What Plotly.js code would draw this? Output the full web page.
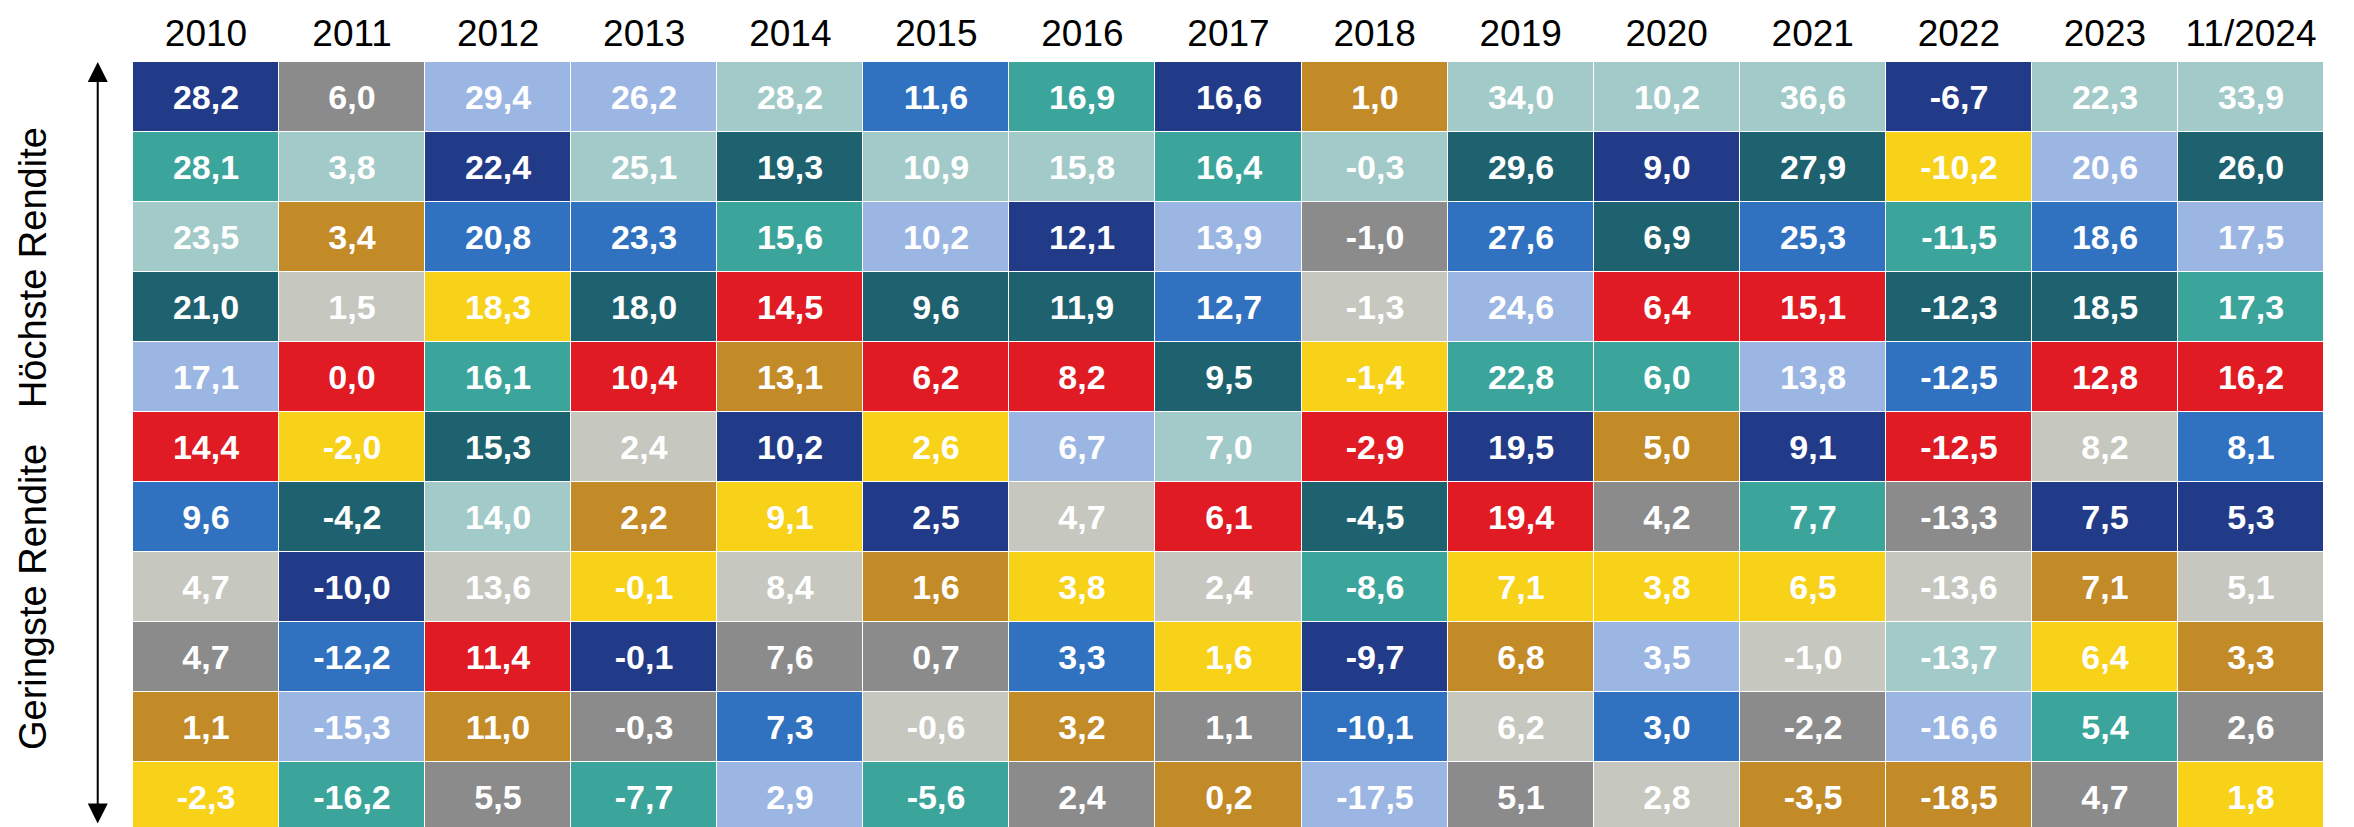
<!DOCTYPE html>
<html><head><meta charset="utf-8">
<script src="https://cdn.plot.ly/plotly-3.0.1.min.js"></script>
<style>html,body{margin:0;padding:0;background:#fff;}#chart{width:2354px;height:827px;}</style>
</head><body><div id="chart"></div>
<script>
// Column headers
const years = ['2010','2011','2012','2013','2014','2015','2016','2017','2018','2019','2020','2021','2022','2023','11/2024'];

// Colour keys of the asset classes (no legend in the source)
const classKeys   = ['N','G','P','L','T','D','B','O','S','Y','R'];
const classColors = ['#223B89','#8B8B8B','#9CB6E4','#A2CAC8','#3BA59C','#1E6270','#3072C0','#C38A28','#C6C7BF','#F8D119','#E01B24'];

// Returns per year, highest to lowest, and the class of each cell
const r2010 = [28.2, 28.1, 23.5, 21.0, 17.1, 14.4, 9.6, 4.7, 4.7, 1.1, -2.3];
const k2010 = ['N','T','L','D','P','R','B','S','G','O','Y'];
const r2011 = [6.0, 3.8, 3.4, 1.5, 0.0, -2.0, -4.2, -10.0, -12.2, -15.3, -16.2];
const k2011 = ['G','L','O','S','R','Y','D','N','B','P','T'];
const r2012 = [29.4, 22.4, 20.8, 18.3, 16.1, 15.3, 14.0, 13.6, 11.4, 11.0, 5.5];
const k2012 = ['P','N','B','Y','T','D','L','S','R','O','G'];
const r2013 = [26.2, 25.1, 23.3, 18.0, 10.4, 2.4, 2.2, -0.1, -0.1, -0.3, -7.7];
const k2013 = ['P','L','B','D','R','S','O','Y','N','G','T'];
const r2014 = [28.2, 19.3, 15.6, 14.5, 13.1, 10.2, 9.1, 8.4, 7.6, 7.3, 2.9];
const k2014 = ['L','D','T','R','O','N','Y','S','G','B','P'];
const r2015 = [11.6, 10.9, 10.2, 9.6, 6.2, 2.6, 2.5, 1.6, 0.7, -0.6, -5.6];
const k2015 = ['B','L','P','D','R','Y','N','O','G','S','T'];
const r2016 = [16.9, 15.8, 12.1, 11.9, 8.2, 6.7, 4.7, 3.8, 3.3, 3.2, 2.4];
const k2016 = ['T','L','N','D','R','P','S','Y','B','O','G'];
const r2017 = [16.6, 16.4, 13.9, 12.7, 9.5, 7.0, 6.1, 2.4, 1.6, 1.1, 0.2];
const k2017 = ['N','T','P','B','D','L','R','S','Y','G','O'];
const r2018 = [1.0, -0.3, -1.0, -1.3, -1.4, -2.9, -4.5, -8.6, -9.7, -10.1, -17.5];
const k2018 = ['O','L','G','S','Y','R','D','T','N','B','P'];
const r2019 = [34.0, 29.6, 27.6, 24.6, 22.8, 19.5, 19.4, 7.1, 6.8, 6.2, 5.1];
const k2019 = ['L','D','B','P','T','N','R','Y','O','S','G'];
const r2020 = [10.2, 9.0, 6.9, 6.4, 6.0, 5.0, 4.2, 3.8, 3.5, 3.0, 2.8];
const k2020 = ['L','N','D','R','T','O','G','Y','P','B','S'];
const r2021 = [36.6, 27.9, 25.3, 15.1, 13.8, 9.1, 7.7, 6.5, -1.0, -2.2, -3.5];
const k2021 = ['L','D','B','R','P','N','T','Y','S','G','O'];
const r2022 = [-6.7, -10.2, -11.5, -12.3, -12.5, -12.5, -13.3, -13.6, -13.7, -16.6, -18.5];
const k2022 = ['N','Y','T','D','B','R','G','S','L','P','O'];
const r2023 = [22.3, 20.6, 18.6, 18.5, 12.8, 8.2, 7.5, 7.1, 6.4, 5.4, 4.7];
const k2023 = ['L','P','B','D','R','S','N','O','Y','T','G'];
const r2024 = [33.9, 26.0, 17.5, 17.3, 16.2, 8.1, 5.3, 5.1, 3.3, 2.6, 1.8];
const k2024 = ['L','D','P','T','R','B','N','S','O','G','Y'];

const returnCols = [r2010,r2011,r2012,r2013,r2014,r2015,r2016,r2017,r2018,r2019,r2020,r2021,r2022,r2023,r2024];
const classCols  = [k2010,k2011,k2012,k2013,k2014,k2015,k2016,k2017,k2018,k2019,k2020,k2021,k2022,k2023,k2024];

const nRows = r2010.length;
const rowIdx = Array.from({length: nRows}, (_, i) => i);
const fmt = v => v.toFixed(1).replace('.', ',');

const z = rowIdx.map(r => classCols.map(col => classKeys.indexOf(col[r])));
const txt = rowIdx.map(r => returnCols.map(col => fmt(col[r])));

const n = classColors.length - 1;
const colorscale = classColors.map((c, i) => [i / n, c]);

const FONT = 'Arial, "Liberation Sans", sans-serif';

const trace = {
  type: 'heatmap',
  x: years,
  y: rowIdx,
  z: z,
  text: txt,
  texttemplate: '%{text}',
  textfont: {family: FONT, size: 34, color: '#ffffff', weight: 'bold'},
  colorscale: colorscale,
  zmin: 0, zmax: n,
  showscale: false,
  xgap: 1, ygap: 1,
  hoverinfo: 'skip'
};

const layout = {
  width: 2354, height: 827,
  margin: {l: 133, r: 30, t: 62, b: 0, pad: 0},
  paper_bgcolor: '#ffffff',
  plot_bgcolor: '#ffffff',
  showlegend: false,
  xaxis: {
    type: 'category', side: 'top', range: [-0.5, 14.5],
    showgrid: false, zeroline: false, showline: false, ticks: '',
    ticklabelstandoff: 8,
    tickfont: {family: FONT, size: 37, color: '#000000'},
    fixedrange: true
  },
  yaxis: {
    range: [10.43, -0.5], visible: false, showgrid: false, zeroline: false, fixedrange: true
  },
  annotations: [
    {
      xref: 'paper', yref: 'paper', x: -0.0161, y: 1.0,
      axref: 'pixel', ayref: 'pixel', ax: 0, ay: 763,
      text: '', showarrow: true, arrowside: 'end+start',
      arrowhead: 2, startarrowhead: 2, arrowsize: 2, startarrowsize: 2,
      arrowwidth: 2, arrowcolor: '#000000', standoff: 0, startstandoff: 0
    },
    {
      xref: 'paper', yref: 'paper', x: -0.0456, y: 0.7307,
      text: 'Höchste Rendite', textangle: -90, showarrow: false,
      xanchor: 'center', yanchor: 'middle',
      font: {family: FONT, size: 38, color: '#000000'}
    },
    {
      xref: 'paper', yref: 'paper', x: -0.0456, y: 0.3007,
      text: 'Geringste Rendite', textangle: -90, showarrow: false,
      xanchor: 'center', yanchor: 'middle',
      font: {family: FONT, size: 38, color: '#000000'}
    }
  ]
};

Plotly.newPlot('chart', [trace], layout, {displayModeBar: false, staticPlot: true});
</script>
</body></html>
